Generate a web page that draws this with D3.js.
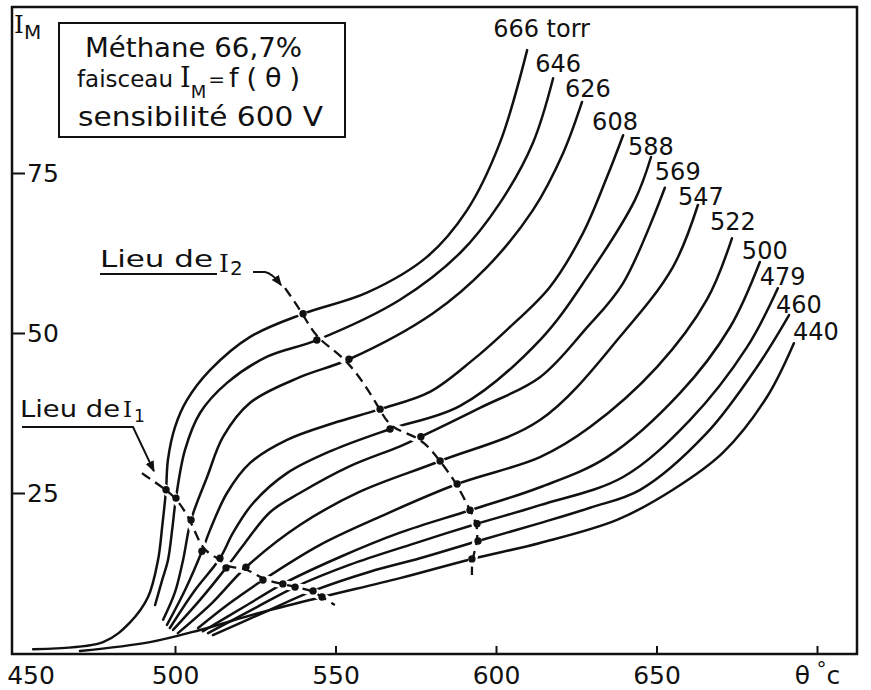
<!DOCTYPE html>
<html>
<head>
<meta charset="utf-8">
<script src="https://cdn.jsdelivr.net/npm/d3@7"></script>
<style>
  body { margin: 0; background: #fff; }
  svg text { font-family: "DejaVu Sans", sans-serif; fill: #111; }
  svg .serif { font-family: "DejaVu Serif", serif; }
  svg .sans { font-family: "DejaVu Sans", sans-serif; }
</style>
</head>
<body>
<script>
// I_M = f(theta), methane 66.7 %, one curve per pressure (torr)
const pressures = [666, 646, 626, 608, 588, 569, 547, 522, 500, 479, 460, 440]

// points [theta °C, I_M]
const c666 = [[455.8, 0.6], [477.6, 1.7], [486.0, 4.8], [491.6, 8.75], [494.7, 14.5], [496.0, 19.7], [497.2, 25.5], [497.8, 30.2], [500.0, 35.3], [503.7, 39.5], [510.9, 44.2], [523.4, 49.4], [539.9, 53.0], [559.8, 56.3], [578.5, 61.9], [591.0, 69.2], [601.2, 79.7], [609.7, 94.2]]
const c646 = [[493.8, 7.5], [496.0, 11.4], [497.8, 14.5], [499.1, 19.2], [500.3, 24.2], [503.1, 31.7], [507.8, 37.5], [516.2, 42.2], [528.7, 46.3], [544.2, 48.9], [570.1, 55.2], [588.8, 62.5], [601.2, 70.3], [611.5, 79.7], [617.8, 89.8]]
const c626 = [[496.3, 5.2], [500.0, 9.5], [502.5, 14.5], [505.0, 20.8], [510.0, 27.5], [515.0, 33.8], [523.4, 39.1], [538.9, 43.1], [554.2, 45.9], [580.4, 53.1], [597.2, 60.3], [611.5, 69.2], [620.9, 78.1], [626.8, 86.1]]
const c608 = [[497.5, 4.4], [503.1, 9.8], [508.4, 15.9], [510.9, 19.2], [516.2, 25.0], [523.4, 29.7], [534.9, 33.3], [549.2, 35.9], [563.9, 38.1], [579.4, 40.8], [592.8, 45.8], [603.4, 50.5], [616.8, 57.2], [627.1, 65.6], [634.6, 74.4], [639.6, 80.9]]
const c588 = [[498.4, 3.9], [506.2, 9.8], [514.0, 14.8], [518.1, 18.8], [524.3, 23.4], [534.9, 28.1], [549.2, 31.7], [567.0, 35.0], [588.8, 38.6], [613.7, 48.9], [629.3, 59.4], [643.3, 70.8], [648.3, 77.5]]
const c569 = [[499.4, 3.6], [507.8, 8.3], [515.9, 13.3], [521.8, 17.2], [529.6, 22.0], [538.9, 25.0], [554.5, 29.2], [570.1, 32.3], [576.6, 33.8], [595.0, 38.3], [613.7, 43.1], [627.7, 50.5], [639.6, 57.8], [652.6, 72.7]]
const c547 = [[500.9, 3.1], [511.5, 7.8], [522.1, 13.4], [538.9, 20.0], [557.6, 25.2], [582.6, 30.0], [613.7, 36.4], [639.6, 50.0], [655.1, 60.3], [662.9, 70.0]]
const c522 = [[507.2, 3.9], [517.1, 7.8], [527.4, 11.4], [545.2, 16.9], [563.9, 21.3], [587.9, 26.4], [613.7, 30.6], [629.3, 35.3], [650.2, 44.7], [665.7, 55.2], [673.5, 64.8]]
const c500 = [[508.7, 3.4], [521.8, 7.3], [533.6, 10.8], [551.4, 15.0], [570.1, 18.8], [591.9, 22.3], [613.7, 25.9], [634.6, 30.6], [657.3, 40.6], [672.9, 50.9], [682.2, 61.1]]
const c479 = [[510.3, 3.1], [524.9, 7.0], [537.4, 10.3], [554.5, 13.8], [573.2, 16.9], [594.1, 20.2], [613.7, 23.1], [639.6, 27.5], [660.4, 36.4], [678.2, 47.8], [687.8, 57.0]]
const c460 = [[511.8, 2.8], [528.0, 6.4], [543.0, 9.7], [560.7, 12.7], [576.3, 14.8], [594.4, 17.5], [613.7, 20.3], [629.3, 22.7], [644.9, 25.5], [665.7, 34.4], [681.3, 44.7], [691.3, 52.8]]
const c440 = [[470.4, 0.3], [492.2, 1.7], [507.8, 3.6], [526.5, 6.3], [545.8, 8.75], [570.1, 11.7], [592.5, 14.7], [613.7, 17.2], [637.7, 20.8], [655.1, 25.5], [670.7, 31.3], [684.4, 40.0], [692.8, 48.4]]
const curves = [c666, c646, c626, c608, c588, c569, c547, c522, c500, c479, c460, c440]

// loci of I1 and I2 (one dot per curve, plus the two ends of the dashed line)
const lieuI1 = [[497.2, 25.5], [500.3, 24.2], [505.0, 20.8], [508.4, 15.9], [514.0, 14.8], [515.9, 13.3], [522.1, 13.4], [527.4, 11.4], [533.6, 10.8], [537.4, 10.3], [543.0, 9.7], [545.8, 8.75]]
const lieuI1Ends = [[489.7, 28.1], [549.8, 7.5]]
const lieuI2 = [[539.9, 53.0], [544.2, 48.9], [554.2, 45.9], [563.9, 38.1], [567.0, 35.0], [576.6, 33.8], [582.6, 30.0], [587.9, 26.4], [591.9, 22.3], [594.1, 20.2], [594.4, 17.5], [592.5, 14.7]]
const lieuI2Ends = [[534.3, 57.0], [592.5, 12.2]]

const xTicks = [450, 500, 550, 600, 650, 700]
const yTicks = [25, 50, 75]

const W = 871
const H = 690
const ink = '#111'
// pixel nudge of each pressure label from its curve end
const labelShift = [[-34, -13], [-18, -6], [-17, -5], [-31, -5], [-23, -2], [-10, -8], [-20, 0], [-22, -8], [-18, -3], [-18, -3], [-13, -2], [-1, -3]]

const x = d3.scaleLinear().domain([450, 700]).range([14.5, 817])
const y = d3.scaleLinear().domain([0, 100]).range([653, 13])

const svg = d3.select('body').append('svg')
  .attr('width', W)
  .attr('height', H)

svg.append('defs').append('marker')
  .attr('id', 'arrow')
  .attr('viewBox', '0 0 10 10')
  .attr('refX', 9)
  .attr('refY', 5)
  .attr('markerWidth', 11)
  .attr('markerHeight', 11)
  .attr('markerUnits', 'userSpaceOnUse')
  .attr('orient', 'auto')
  .append('path')
  .attr('d', 'M0,1 L10,5 L0,9 z')
  .attr('fill', ink)

// frame
svg.append('rect')
  .attr('x', 12).attr('y', 7)
  .attr('width', 845).attr('height', 647)
  .attr('fill', 'none')
  .attr('stroke', ink)
  .attr('stroke-width', 2.5)

// axes (ticks point inwards)
const gy = svg.append('g')
  .attr('transform', 'translate(12,0)')
  .call(d3.axisRight(y).tickValues(yTicks).tickSizeInner(13).tickSizeOuter(0).tickPadding(2))
gy.select('.domain').remove()
gy.selectAll('line').attr('stroke', ink).attr('stroke-width', 2)
gy.selectAll('text').attr('font-size', 25).attr('font-family', 'DejaVu Sans').attr('fill', ink)

const gx = svg.append('g')
  .attr('transform', 'translate(0,654)')
  .call(d3.axisBottom(x).tickValues(xTicks).tickSizeInner(-8).tickSizeOuter(0).tickPadding(12))
gx.select('.domain').remove()
gx.selectAll('line').attr('stroke', ink).attr('stroke-width', 2)
gx.selectAll('text').attr('font-size', 25).attr('font-family', 'DejaVu Sans').attr('fill', ink)
gx.selectAll('.tick').filter((d) => d === 450).select('line').remove()
gx.selectAll('.tick').filter((d) => d === 450).select('text').attr('x', 16)
const unit = gx.selectAll('.tick').filter((d) => d === 700).select('text').text(null)
unit.append('tspan').text('θ')
unit.append('tspan').attr('dy', -8).attr('font-size', 20).text(' °')
unit.append('tspan').attr('dy', 8).text('c')

// curves
const line = d3.line()
  .x((d) => x(d[0]))
  .y((d) => y(d[1]))
  .curve(d3.curveCatmullRom.alpha(0.5))

svg.append('g')
  .selectAll('path')
  .data(curves)
  .join('path')
  .attr('d', line)
  .attr('fill', 'none')
  .attr('stroke', ink)
  .attr('stroke-width', 2.5)
  .attr('stroke-linecap', 'round')

// dashed loci with dots
const locus = d3.line()
  .x((d) => x(d[0]))
  .y((d) => y(d[1]))
  .curve(d3.curveBasis)

;[[lieuI1, lieuI1Ends], [lieuI2, lieuI2Ends]].forEach(([dots, ends]) => {
  const pts = [ends[0], ...dots, ends[1]]
  svg.append('path')
    .attr('d', locus(pts))
    .attr('fill', 'none')
    .attr('stroke', '#fff')
    .attr('stroke-width', 9)
  svg.append('path')
    .attr('d', locus(pts))
    .attr('fill', 'none')
    .attr('stroke', ink)
    .attr('stroke-width', 2.3)
    .attr('stroke-dasharray', '10,6')
  svg.append('g')
    .selectAll('circle')
    .data(dots)
    .join('circle')
    .attr('cx', (d) => x(d[0]))
    .attr('cy', (d) => y(d[1]))
    .attr('r', 3.7)
    .attr('fill', ink)
})

// pressure labels at the top end of each curve
svg.append('g')
  .selectAll('text')
  .data(pressures)
  .join('text')
  .attr('x', (p, i) => x(curves[i][curves[i].length - 1][0]) + labelShift[i][0])
  .attr('y', (p, i) => y(curves[i][curves[i].length - 1][1]) + labelShift[i][1])
  .attr('font-size', 24)
  .text((p, i) => i === 0 ? p + ' torr' : p)

// "Lieu de I1" annotation
svg.append('text').attr('x', 20).attr('y', 417).attr('font-size', 23)
  .attr('textLength', 100).attr('lengthAdjust', 'spacingAndGlyphs').text('Lieu de')
const i1 = svg.append('text').attr('class', 'serif').attr('x', 123).attr('y', 417).attr('font-size', 23)
i1.append('tspan').text('I')
i1.append('tspan').attr('class', 'sans').attr('dx', 2).attr('dy', 5).attr('font-size', 17).text('1')
svg.append('path')
  .attr('d', `M22,427 L133,427 L${x(lieuI1Ends[0][0]) + 12},${y(lieuI1Ends[0][1]) - 2}`)
  .attr('fill', 'none').attr('stroke', ink).attr('stroke-width', 2)
  .attr('marker-end', 'url(#arrow)')

// "Lieu de I2" annotation
svg.append('text').attr('x', 100).attr('y', 267).attr('font-size', 23)
  .attr('textLength', 113).attr('lengthAdjust', 'spacingAndGlyphs').text('Lieu de')
const i2 = svg.append('text').attr('class', 'serif').attr('x', 219).attr('y', 272).attr('font-size', 25)
i2.append('tspan').text('I')
i2.append('tspan').attr('class', 'sans').attr('dx', 1).attr('dy', 3).attr('font-size', 20).text('2')
svg.append('path').attr('d', 'M100,274 L217,274')
  .attr('stroke', ink).attr('stroke-width', 2)
svg.append('path')
  .attr('d', `M253,272 L265,272 Q272,273 ${x(lieuI2Ends[0][0]) - 4},${y(lieuI2Ends[0][1]) - 3}`)
  .attr('fill', 'none').attr('stroke', ink).attr('stroke-width', 2)
  .attr('marker-end', 'url(#arrow)')

// axis title
const im = svg.append('text').attr('class', 'serif').attr('x', 14).attr('y', 33).attr('font-size', 25)
im.append('tspan').text('I')
im.append('tspan').attr('class', 'sans').attr('dy', 6).attr('font-size', 20).text('M')

// caption box
svg.append('rect')
  .attr('x', 59).attr('y', 23)
  .attr('width', 286).attr('height', 114)
  .attr('fill', '#fff')
  .attr('stroke', ink)
  .attr('stroke-width', 2)
svg.append('text').attr('x', 85).attr('y', 57).attr('font-size', 27)
  .attr('textLength', 217).attr('lengthAdjust', 'spacingAndGlyphs').text('Méthane 66,7%')
const fm = svg.append('text').attr('x', 77).attr('y', 87).attr('font-size', 23)
fm.append('tspan').text('faisceau')
fm.append('tspan').attr('class', 'serif').attr('dx', 7).attr('font-size', 27).text('I')
fm.append('tspan').attr('dy', 11).attr('font-size', 18).text('M')
fm.append('tspan').attr('dx', 2).attr('dy', -12).attr('font-size', 20).text('=')
fm.append('tspan').attr('dx', 4).attr('dy', 1).attr('font-size', 27)
  .attr('letter-spacing', 8).text('f(θ)')
svg.append('text').attr('x', 78).attr('y', 126).attr('font-size', 27)
  .attr('textLength', 245).attr('lengthAdjust', 'spacingAndGlyphs').text('sensibilité  600 V')
</script>
</body>
</html>
